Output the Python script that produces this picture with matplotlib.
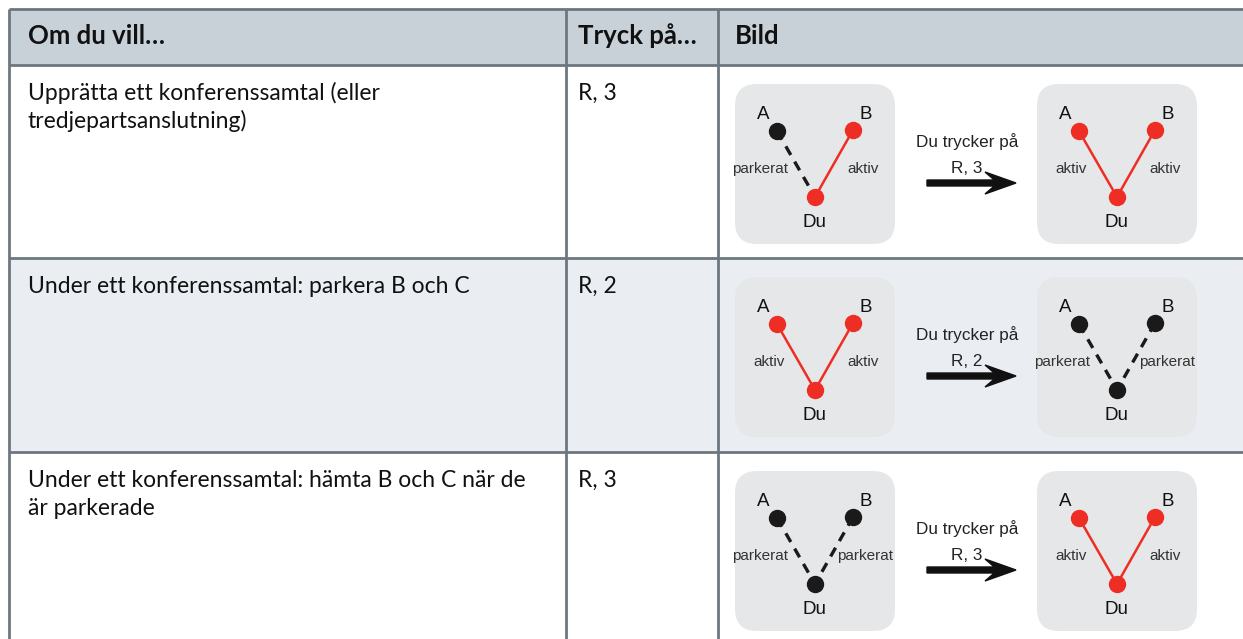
import matplotlib.pyplot as plt
from matplotlib.patches import FancyBboxPatch, Rectangle, FancyArrow

# table content
headers = ["Om du vill…", "Tryck på…", "Bild"]
actions = ["Upprätta ett konferenssamtal (eller\ntredjepartsanslutning)",
           "Under ett konferenssamtal: parkera B och C",
           "Under ett konferenssamtal: hämta B och C när de\när parkerade"]
keys = ["R, 3", "R, 2", "R, 3"]
# state of the A and B calls before / after pressing the keys
before = [("parkerat", "aktiv"), ("aktiv", "aktiv"), ("parkerat", "parkerat")]
after = [("aktiv", "aktiv"), ("parkerat", "parkerat"), ("aktiv", "aktiv")]
arrow_text = "Du trycker på"

RED = "#ee2e24"
BLACK = "#1a1a1a"
BORDER = "#6d7780"
BODY = ["Lato", "DejaVu Sans"]
HELV = ["Liberation Sans", "DejaVu Sans"]

fig = plt.figure(figsize=(12.43, 6.39), dpi=100)
ax = fig.add_axes([0, 0, 1, 1])
ax.set_xlim(0, 1243)
ax.set_ylim(639, 0)
ax.axis("off")

row_tops = [65, 258, 452]
col_x = [9, 566, 718]

# backgrounds
ax.add_patch(Rectangle((9, 9), 1243, 56, fc="#c8d0d8", ec="none", zorder=0))
ax.add_patch(Rectangle((9, 258), 1243, 194, fc="#eaeef2", ec="none", zorder=0))

# grid lines
for y in [9, 65, 258, 452]:
    ax.plot([9, 1243], [y, y], color=BORDER, lw=2, zorder=1, solid_capstyle="butt")
for x in col_x:
    ax.plot([x, x], [9, 639], color=BORDER, lw=2, zorder=1, solid_capstyle="butt")

# header
for x, h in zip([28, 578, 735], headers):
    ax.text(x, 44, h, fontsize=18.5, fontweight="bold", family=BODY,
            va="baseline", ha="left", color="#111111")


def diagram(x0, y0, states):
    ax.add_patch(FancyBboxPatch((x0, y0), 160, 160,
                                boxstyle="round,pad=0,rounding_size=22",
                                fc="#e6e7e8", ec="none", zorder=2))
    du = (x0 + 80, y0 + 113)
    nodes = [(x0 + 42, y0 + 47), (x0 + 118, y0 + 46)]
    any_active = False
    for side, (node, st) in enumerate(zip(nodes, states)):
        if st == "aktiv":
            any_active = True
            ax.plot([node[0], du[0]], [node[1], du[1]], color=RED, lw=1.8, zorder=3)
            ax.plot(*node, "o", ms=11.5, color=RED, zorder=4)
            lx = x0 + (34 if side == 0 else 128)
        else:
            ax.plot([node[0], du[0]], [node[1], du[1]], color=BLACK, lw=2.4,
                    dashes=(3, 2.3), zorder=3)
            ax.plot(*node, "o", ms=11.5, color=BLACK, zorder=4)
            lx = x0 + (25 if side == 0 else 130)
        ax.text(lx, y0 + 89, st, fontsize=11, family=HELV, color="#333333",
                ha="center", va="baseline", zorder=5)
    ax.plot(*du, "o", ms=11.5, color=RED if any_active else BLACK, zorder=4)
    ax.text(x0 + 28, y0 + 35, "A", fontsize=13.5, family=HELV, ha="center",
            va="baseline", color="#111111", zorder=5)
    ax.text(x0 + 131, y0 + 35, "B", fontsize=13.5, family=HELV, ha="center",
            va="baseline", color="#111111", zorder=5)
    ax.text(x0 + 79, y0 + 143, "Du", fontsize=13.5, family=HELV, ha="center",
            va="baseline", color="#111111", zorder=5)


for i, top in enumerate(row_tops):
    for k, line in enumerate(actions[i].split("\n")):
        ax.text(28, top + 35 + 28 * k, line, fontsize=16.5, family=BODY,
                va="baseline", ha="left", color="#111111")
    ax.text(578, top + 35, keys[i], fontsize=16.5, family=BODY, va="baseline",
            ha="left", color="#111111")
    box_y = top + 19
    diagram(735, box_y, before[i])
    diagram(1037, box_y, after[i])
    ax.text(967, top + 82, arrow_text, fontsize=12.3, family=HELV,
            ha="center", va="baseline", color="#222222")
    ax.text(967, top + 108, keys[i], fontsize=12.3, family=HELV,
            ha="center", va="baseline", color="#222222")
    ax.add_patch(FancyArrow(927, top + 118, 89, 0, width=6, head_width=22,
                            head_length=31, overhang=0.3,
                            length_includes_head=True, color="#111111",
                            zorder=3))

fig.savefig("out.png", dpi=100)
